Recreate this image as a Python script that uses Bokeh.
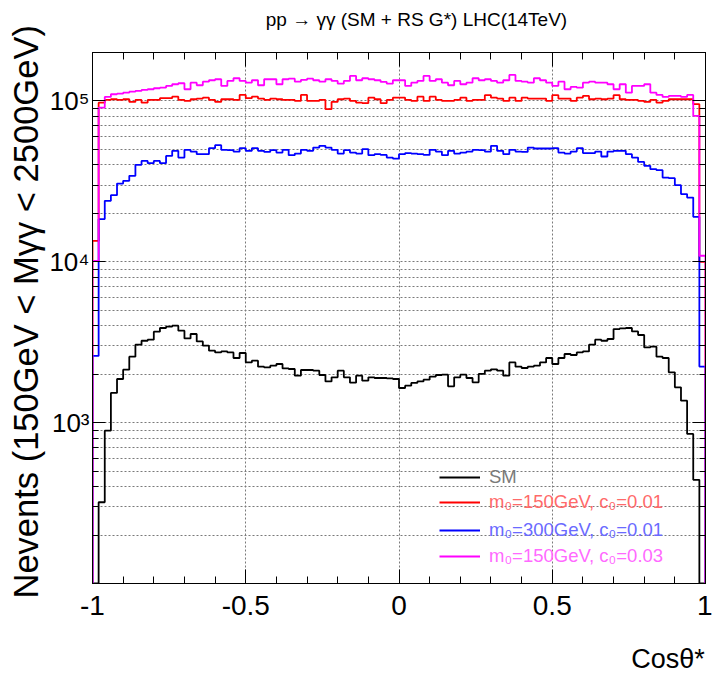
import numpy as np
from bokeh.plotting import figure
from bokeh.models import LinearAxis, LogAxis, FixedTicker, Legend, LegendItem, Title
from bokeh.embed import file_html
from bokeh.resources import INLINE

# ---------------- data (100 bins of cos(theta*) from -1 to 1) ----------------
x_lo, x_hi, n_bins = -1.0, 1.0, 100

sm = [0, 320, 891, 1530, 1868, 2134, 2570, 3051, 3230, 3278,
      3675, 3875, 3948, 4005, 3728, 3339, 3556, 3199, 3008, 2801,
      2733, 2773, 2733, 2523, 2710, 2368, 2427, 2227, 2205, 2259,
      2315, 2174, 2155, 1958, 2125, 2125, 2104, 1978, 1805, 1912,
      2104, 1912, 1772, 1958, 1823, 1912, 1895, 1895, 1885, 1868,
      1642, 1697, 1765, 1805, 1850, 1931, 1978, 1987, 1681, 1912,
      1987, 1895, 1780, 2007, 2104, 2144, 2104, 1958, 2368, 2227,
      2186, 2227, 2259, 2368, 2523, 2315, 2523, 2672, 2634, 2733,
      2773, 3051, 3278, 3230, 3311, 3819, 3852, 3875, 3691, 3505,
      2935, 2965, 2570, 2523, 2054, 1657, 1369, 851, 441, 0]

rs_m150_c001 = [13500, 97590, 101440, 102460, 101440, 102460, 98580, 101440, 97590, 101440,
                101440, 103940, 103940, 106340, 101440, 100000, 102460, 103350, 104830, 101440,
                98580, 102460, 102460, 101440, 108960, 103940, 106340, 103350, 101440, 103350,
                102460, 101440, 101440, 100000, 108960, 100000, 100000, 101440, 88810, 98580,
                102460, 103350, 100000, 97590, 96770, 104830, 102460, 96770, 101440, 104830,
                104830, 101440, 100000, 106340, 100000, 106340, 101440, 100000, 100000, 101440,
                104830, 100000, 101440, 101440, 108640, 104830, 103350, 100000, 104830, 100000,
                104830, 103350, 103350, 103350, 100000, 108640, 103350, 103350, 100000, 104830,
                107410, 102460, 103350, 102460, 103350, 108640, 102460, 101440, 101440, 100000,
                98580, 101440, 97590, 100000, 102460, 102460, 102460, 102460, 95390, 10000]

rs_m300_c001 = [2600, 18420, 23920, 25960, 30640, 31850, 34210, 40040, 42390, 41020,
                42390, 41020, 45530, 48920, 44430, 49630, 48430, 46670, 46670, 50840,
                53060, 49630, 49480, 48430, 50840, 48920, 50840, 48920, 48220, 49480,
                47750, 49630, 45990, 47060, 49630, 48920, 51280, 52550, 51280, 49630,
                47060, 49480, 47750, 47060, 50120, 45990, 46670, 46190, 44430, 43810,
                46670, 47410, 47060, 46670, 46190, 49630, 48430, 45990, 48920, 47060,
                47750, 48430, 49630, 49480, 48430, 52550, 48920, 46670, 49630, 48430,
                48220, 51280, 50620, 50620, 50620, 50840, 47750, 47060, 48430, 50840,
                47410, 47410, 48430, 45140, 48430, 48920, 48920, 46670, 44430, 41790,
                39480, 37650, 37120, 33390, 33110, 29950, 26340, 25070, 19030, 2230]

rs_m150_c003 = [10140, 90860, 105880, 110060, 111010, 112610, 114230, 115370, 117040, 118220,
                119920, 120960, 123940, 126990, 128810, 118220, 129920, 125180, 131800, 134460,
                136400, 123940, 133120, 138370, 133120, 129920, 134460, 125180, 136400, 136400,
                126990, 136400, 137580, 131800, 135040, 137580, 134460, 131800, 136400, 133120,
                128070, 133120, 142990, 134460, 138370, 136400, 134460, 131230, 128070, 134460,
                134460, 123940, 129920, 133120, 142990, 133120, 136400, 129920, 125180, 133120,
                126990, 129920, 138370, 134460, 136400, 133120, 129920, 134460, 145050, 133120,
                131800, 129920, 138370, 134460, 129920, 123940, 131800, 118220, 122180, 120960,
                129920, 131800, 129920, 129920, 126990, 118220, 126990, 112610, 123940, 123940,
                126990, 112610, 108960, 105880, 107410, 107410, 105880, 108960, 80670, 10900]

series_labels = ["SM", "m\u2080=150GeV, c\u2080=0.01", "m\u2080=300GeV, c\u2080=0.01", "m\u2080=150GeV, c\u2080=0.03"]
x_tick_values = [-1, -0.5, 0, 0.5, 1]
x_tick_labels = ["-1", "-0.5", "0", "0.5", "1"]
x_minor_values = [-1.0, -0.9, -0.8, -0.7, -0.6, -0.5, -0.4, -0.3, -0.2, -0.1, 0.0,
                  0.1, 0.2, 0.3, 0.4, 0.5, 0.6, 0.7, 0.8, 0.9, 1.0]
y_tick_values = [1e2, 1e3, 1e4, 1e5]
y_tick_labels = ["", "10\u00b3", "10\u2074", "10\u2075"]
y_minor_values = [m * 10.0 ** k for k in (2, 3, 4, 5) for m in range(2, 10)]
y_min, y_max = 100.0, 2.0e5

title_text = "pp \u2192 \u03b3\u03b3 (SM + RS G*) LHC(14TeV)"
y_title_text = "Nevents (150GeV < M\u03b3\u03b3 < 2500GeV)"
x_title_text = "Cos\u03b8*"
x_title_anchor = 0.878   # where the x-axis title is centred along the axis
title_anchor = 0.057     # where the plot title is centred along the axis

FONT = "Liberation Sans"

# ---------------- figure ----------------
p = figure(width=712, height=682, x_range=(x_lo, x_hi), y_range=(y_min, y_max),
           y_axis_type="log", output_backend="svg", toolbar_location=None,
           min_border_left=92, min_border_right=7, min_border_top=52, min_border_bottom=99,
           background_fill_color="white", border_fill_color="white")
p.outline_line_color = "black"
p.outline_line_width = 1
p.title.text = ""

xt = FixedTicker(ticks=x_tick_values, minor_ticks=x_minor_values)
yt = FixedTicker(ticks=y_tick_values, minor_ticks=y_minor_values)

# bottom axis
xa = p.xaxis[0]
xa.ticker = xt
xa.major_tick_in = 14
xa.major_tick_out = 0
xa.minor_tick_in = 7
xa.minor_tick_out = 0
xa.axis_line_color = "black"
xa.major_label_text_font = FONT
xa.major_label_text_font_size = "28px"
xa.major_label_text_color = "black"
xa.major_label_standoff = 12
xa.major_label_overrides = dict(zip(x_tick_values, x_tick_labels))

# left axis
ya = p.yaxis[0]
ya.ticker = yt
ya.major_tick_in = 13
ya.major_tick_out = 0
ya.minor_tick_in = 6
ya.minor_tick_out = 0
ya.axis_line_color = "black"
ya.major_label_overrides = dict(zip(y_tick_values, y_tick_labels))
ya.major_label_text_font = FONT
ya.major_label_text_font_size = "26px"
ya.major_label_text_color = "black"
ya.major_label_standoff = 3

# top and right axes: ticks only
top = LinearAxis(ticker=FixedTicker(ticks=x_tick_values, minor_ticks=x_minor_values),
                 major_tick_in=14, major_tick_out=0, minor_tick_in=7, minor_tick_out=0,
                 major_label_overrides={t: "" for t in x_tick_values}, major_label_standoff=0,
                 axis_line_color="black")
p.add_layout(top, "above")
right = LogAxis(ticker=FixedTicker(ticks=y_tick_values, minor_ticks=y_minor_values),
                major_tick_in=13, major_tick_out=0, minor_tick_in=6, minor_tick_out=0,
                major_label_overrides={t: "" for t in y_tick_values}, major_label_standoff=0,
                axis_line_color="black")
p.add_layout(right, "right")

# plot title: a tick-less axis above the top axis
title_axis = LinearAxis(ticker=FixedTicker(ticks=[title_anchor], minor_ticks=[]),
                        major_label_overrides={title_anchor: title_text},
                        major_tick_in=0, major_tick_out=0, minor_tick_in=0, minor_tick_out=0,
                        axis_line_color=None, major_label_standoff=23,
                        major_label_text_font=FONT, major_label_text_font_size="19px",
                        major_label_text_color="black")
p.add_layout(title_axis, "above")

# y-axis title
p.add_layout(Title(text=y_title_text, align="left", offset=-15, text_font=FONT,
                   text_font_size="34.5px", text_font_style="normal", text_color="black",
                   standoff=4), "left")

# x-axis title: an extra, tick-less axis below the first one
xtitle_axis = LinearAxis(ticker=FixedTicker(ticks=[x_title_anchor], minor_ticks=[]),
                         major_label_overrides={x_title_anchor: x_title_text},
                         major_tick_in=0, major_tick_out=0, minor_tick_in=0, minor_tick_out=0,
                         axis_line_color=None, major_label_standoff=26,
                         major_label_text_font=FONT, major_label_text_font_size="27px",
                         major_label_text_color="black")
p.add_layout(xtitle_axis, "below")

# grids
p.xgrid.ticker = xt
p.xgrid.grid_line_color = "#7a7a7a"
p.xgrid.grid_line_dash = "2 2"
p.xgrid.minor_grid_line_color = None
p.ygrid.ticker = yt
p.ygrid.grid_line_color = "#7a7a7a"
p.ygrid.grid_line_dash = "2 2"
p.ygrid.minor_grid_line_color = "#7a7a7a"
p.ygrid.minor_grid_line_dash = "2 2"

# ---------------- histograms as steps ----------------
edges = np.linspace(x_lo, x_hi, n_bins + 1)


def step_xy(vals):
    v = np.maximum(np.asarray(vals, dtype=float), y_min)
    xs = np.repeat(edges, 2)
    ys = np.concatenate([[y_min], np.repeat(v, 2), [y_min]])
    return xs, ys


colors = ["#000000", "#ff0000", "#0000ff", "#ff00ff"]
text_colors = ["#7a7a7a", "#ff6a6a", "#6a6aff", "#ff6aff"]
all_series = [sm, rs_m150_c001, rs_m300_c001, rs_m150_c003]
renderers = []
for vals, c in zip(all_series, colors):
    xs, ys = step_xy(vals)
    r = p.line(xs, ys, line_color=c, line_width=1.8)
    renderers.append(r)

# legend: one entry per row so each label can carry its own colour
row_bottoms = [95, 70, 42, 16]
for r, lab, tc, yb in zip(renderers, series_labels, text_colors, row_bottoms):
    lg = Legend(items=[LegendItem(label=lab, renderers=[r])], location=(347, yb),
                padding=0, margin=0, spacing=0, border_line_alpha=0,
                background_fill_alpha=0, glyph_width=41, glyph_height=20,
                label_height=20, label_standoff=9, label_text_font=FONT,
                label_text_font_size="18.5px", label_text_color=tc,
                label_text_baseline="middle")
    p.add_layout(lg)

open("out.html", "w").write(file_html(p, INLINE))
